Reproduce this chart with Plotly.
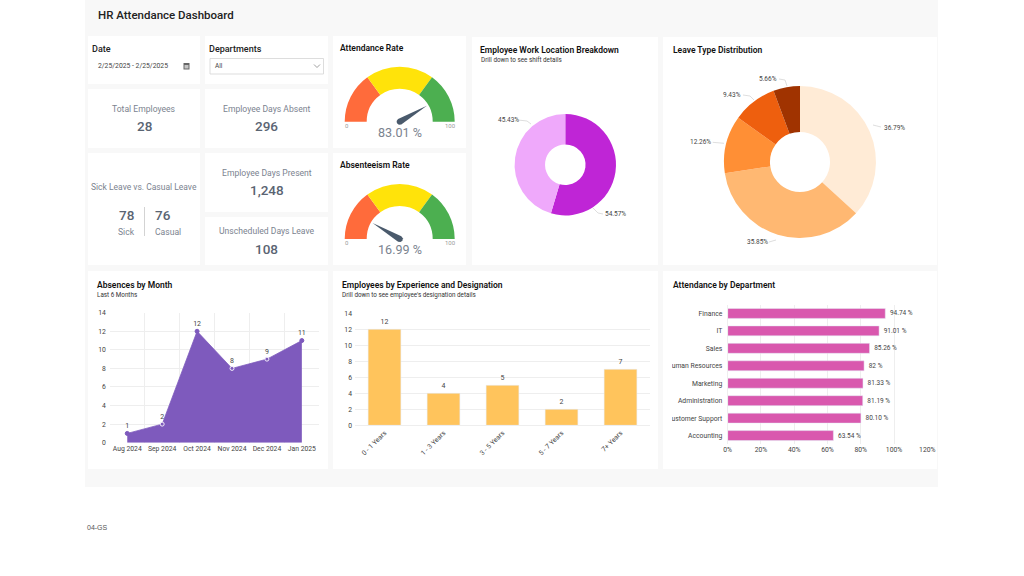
import plotly.graph_objects as go

W, H = 1024, 576

# values
attendance_rate = 83.01
absenteeism_rate = 16.99
gauge_bands = [30, 40, 30]
gauge_colors = ["#FF6B3B", "#FFE30A", "#4CAF50"]

location_values = [54.57, 45.43]
location_colors = ["#BF25D6", "#EFA9FB"]

leave_values = [36.79, 35.85, 12.26, 9.43, 5.66]
leave_colors = ["#FFEBD6", "#FFB872", "#FF8F35", "#EE5F0E", "#A03300"]

months = ["Aug 2024", "Sep 2024", "Oct 2024", "Nov 2024", "Dec 2024", "Jan 2025"]
absences = [1, 2, 12, 8, 9, 11]

experience = ["0 - 1 Years", "1 - 3 Years", "3 - 5 Years", "5 - 7 Years", "7+ Years"]
employees = [12, 4, 5, 2, 7]

departments = ["Finance", "IT", "Sales", "Human Resources", "Marketing",
               "Administration", "Customer Support", "Accounting"]
dept_attendance = [94.74, 91.01, 85.26, 82, 81.33, 81.19, 80.10, 63.54]
dept_labels = ["94.74 %", "91.01 %", "85.26 %", "82 %", "81.33 %", "81.19 %", "80.10 %", "63.54 %"]

FONT = "Roboto"
GREY = "#7B838F"
DARK = "#5A6472"
GRID = "#EEEEEE"
PURPLE = "#7E5ABD"


def px(x):
    return x / W


def py(y):
    return 1 - y / H


fig = go.Figure()
shapes = []
notes = []


def panel(x0, y0, x1, y1, color="#FFFFFF"):
    shapes.append(dict(type="rect", xref="paper", yref="paper", layer="below",
                       x0=px(x0), x1=px(x1), y0=py(y0), y1=py(y1),
                       fillcolor=color, line_width=0))


def text(x, y, s, size=8, color="#222222", weight=400, anchor="left", family=FONT):
    if anchor == "left":
        x -= 1
    notes.append(dict(xref="paper", yref="paper", x=px(x), y=py(y), text=s, showarrow=False,
                      xanchor=anchor, yanchor="middle", borderpad=0,
                      font=dict(family=family, size=size, color=color, weight=weight)))


def leader(points):
    path = "M " + " L ".join(f"{px(a)} {py(b)}" for a, b in points)
    shapes.append(dict(type="path", xref="paper", yref="paper", path=path,
                       line=dict(color="#D0D0D0", width=0.7)))


def add_pie(cx, cy, r, values, colors, hole):
    fig.add_trace(go.Pie(values=values, sort=False, direction="clockwise", rotation=0, hole=hole,
                         marker=dict(colors=colors), textinfo="none", hoverinfo="skip",
                         showlegend=False,
                         domain=dict(x=[px(cx - r), px(cx + r)], y=[py(cy + r), py(cy - r)])))


def add_gauge(cx, cy, value, polar_id):
    r = 55
    # half donut, the lower half of the pie stays invisible
    fig.add_trace(go.Pie(values=gauge_bands + [sum(gauge_bands)], sort=False, direction="clockwise",
                         rotation=270, hole=0.6,
                         marker=dict(colors=gauge_colors + ["rgba(0,0,0,0)"]),
                         textinfo="none", hoverinfo="skip", showlegend=False,
                         domain=dict(x=[px(cx - r), px(cx + r)], y=[py(cy + r), py(cy - r)])))
    angle = 180 * (1 - value / 100)
    offsets = [-90, -45, 0, 45, 90]
    needle_r = [31.5] + [3.2] * 5
    needle_t = [angle] + [angle + 180 + o for o in offsets]
    fig.add_trace(go.Scatterpolar(r=needle_r + needle_r[:1], theta=needle_t + needle_t[:1],
                                  mode="lines", fill="toself", fillcolor="#4A5A6C",
                                  line=dict(width=0, color="#4A5A6C"), hoverinfo="skip",
                                  showlegend=False, subplot=polar_id))
    fig.update_layout({polar_id: dict(
        domain=dict(x=[px(cx - r), px(cx + r)], y=[py(cy + r), py(cy - r)]),
        bgcolor="rgba(0,0,0,0)",
        radialaxis=dict(range=[0, r], visible=False),
        angularaxis=dict(visible=False, direction="counterclockwise", rotation=0))})
    text(cx - 52.5, cy + 3.5, "0", 6, "#9A9A9A", anchor="center")
    text(cx + 50.5, cy + 3.5, "100", 6, "#9A9A9A", anchor="center")
    text(cx, cy + 10.5, f"{value:.2f} %", 12.6, GREY, anchor="center")


# --- page panels ---
panel(85, 0, 938, 487, "#F8F8F8")
for box in [(88, 36, 200, 84), (205, 36, 328, 84), (88, 89, 200, 148), (205, 89, 328, 148),
            (88, 153, 200, 265), (205, 153, 328, 212), (205, 217, 328, 265),
            (333, 36, 466, 148), (333, 153, 466, 265), (472, 37, 658, 265), (663, 37, 937, 265),
            (88, 271, 328, 469), (333, 271, 658, 469), (663, 271, 937, 469)]:
    panel(*box)

text(98, 15, "HR Attendance Dashboard", 11.5, "#222222", 500)
text(92, 49, "Date", 9, "#222222", 500)
text(97.5, 66, "2/25/2025 - 2/25/2025", 6.8, "#444444")
text(209, 49, "Departments", 9, "#222222", 500)
text(215, 66, "All", 6.5, "#444444")

# date picker icon and dropdown box
shapes.append(dict(type="rect", xref="paper", yref="paper", x0=px(183.5), x1=px(189.5), y0=py(69.5), y1=py(63),
                   fillcolor="#666666", line_width=0))
shapes.append(dict(type="rect", xref="paper", yref="paper", x0=px(184.5), x1=px(188.5), y0=py(68.5), y1=py(65),
                   fillcolor="#C4C4C4", line_width=0))
shapes.append(dict(type="rect", xref="paper", yref="paper", x0=px(210), x1=px(323.5), y0=py(74), y1=py(58.5),
                   fillcolor="#FFFFFF", line=dict(color="#D4D4D4", width=0.8)))
shapes.append(dict(type="path", xref="paper", yref="paper",
                   path=f"M {px(314)} {py(64.5)} L {px(317)} {py(67.5)} L {px(320)} {py(64.5)}",
                   line=dict(color="#777777", width=0.7)))

text(144, 108.5, "Total Employees", 8.6, GREY, anchor="center")
text(144, 126, "28", 13.5, DARK, 500, anchor="center")
text(266.5, 108.5, "Employee Days Absent", 8.6, GREY, anchor="center")
text(266.5, 126, "296", 13.5, DARK, 500, anchor="center")
text(266.5, 172.5, "Employee Days Present", 8.6, GREY, anchor="center")
text(266.5, 190, "1,248", 13.5, DARK, 500, anchor="center")
text(266.5, 231, "Unscheduled Days Leave", 8.6, GREY, anchor="center")
text(266.5, 249, "108", 13.5, DARK, 500, anchor="center")
text(144, 186.5, "Sick Leave vs. Casual Leave", 8.5, GREY, anchor="center")
text(126, 215, "78", 13.5, DARK, 500, anchor="center")
text(155, 215, "76", 13.5, DARK, 500)
text(126, 232, "Sick", 8.6, GREY, anchor="center")
text(155, 232, "Casual", 8.6, GREY)
shapes.append(dict(type="line", xref="paper", yref="paper", x0=px(144.5), x1=px(144.5), y0=py(207), y1=py(236),
                   line=dict(color="#C8C8C8", width=0.8)))

# --- gauges ---
text(339.5, 48, "Attendance Rate", 8.5, "#111111", 600)
text(339.5, 165, "Absenteeism Rate", 8.5, "#111111", 600)
add_gauge(399.7, 121.7, attendance_rate, "polar")
add_gauge(399.7, 239, absenteeism_rate, "polar2")

# --- donuts ---
text(480, 50, "Employee Work Location Breakdown", 8.5, "#111111", 600)
text(480.5, 59.5, "Drill down to see shift details", 6.3, "#333333")
add_pie(565.3, 164.7, 50.7, location_values, location_colors, 0.4)
text(508.7, 119.7, f"{location_values[1]:.2f}%", 6.5, "#444444", anchor="center")
text(615.3, 214.3, f"{location_values[0]:.2f}%", 6.5, "#444444", anchor="center")
leader([(518, 120), (527, 121), (531, 124)])
leader([(603, 214), (598, 213), (593, 208)])

text(672.5, 50, "Leave Type Distribution", 8.5, "#111111", 600)
add_pie(800, 162, 76, leave_values, leave_colors, 0.395)
text(894.3, 127.7, f"{leave_values[0]:.2f}%", 6.5, "#444444", anchor="center")
text(757, 242, f"{leave_values[1]:.2f}%", 6.5, "#444444", anchor="center")
text(700, 142.3, f"{leave_values[2]:.2f}%", 6.5, "#444444", anchor="center")
text(732.3, 95.3, f"{leave_values[3]:.2f}%", 6.5, "#444444", anchor="center")
text(768.3, 79.3, f"{leave_values[4]:.2f}%", 6.5, "#444444", anchor="center")
leader([(873, 125), (881, 127)])
leader([(769, 242), (776, 240)])
leader([(712.7, 142.3), (724, 143.3)])
leader([(743, 95), (750, 96), (754, 100)])
leader([(779, 79), (785, 80), (787, 86)])

# --- absences by month ---
text(96.5, 285, "Absences by Month", 8.5, "#111111", 600)
text(96.5, 294.5, "Last 6 Months", 6.3, "#333333")
fig.add_trace(go.Scatter(x=months, y=absences, mode="lines+markers+text", fill="tozeroy",
                         fillcolor=PURPLE, line=dict(color=PURPLE, width=0.8),
                         marker=dict(size=4, color=PURPLE,
                                     line=dict(color=[PURPLE, "#F3EEFA", PURPLE, "#F3EEFA", "#F3EEFA", PURPLE],
                                               width=1)),
                         text=absences, textposition="top center",
                         textfont=dict(family=FONT, size=7, color="#444444"),
                         cliponaxis=False, hoverinfo="skip", showlegend=False,
                         xaxis="x", yaxis="y"))

# --- employees by experience ---
text(342, 285, "Employees by Experience and Designation", 8.5, "#111111", 600)
text(342, 294.5, "Drill down to see employee's designation details", 6.3, "#333333")
fig.add_trace(go.Bar(x=experience, y=employees, marker_color="#FFC45C", width=0.555,
                     text=employees, textposition="outside", cliponaxis=False,
                     textfont=dict(family=FONT, size=7, color="#444444"),
                     hoverinfo="skip", showlegend=False, xaxis="x2", yaxis="y2"))

# --- attendance by department ---
text(672.5, 285, "Attendance by Department", 8.5, "#111111", 600)
fig.add_trace(go.Bar(y=departments, x=dept_attendance, orientation="h", marker_color="#D958AE", width=0.57,
                     text=dept_labels, texttemplate="\u00a0%{text}", textposition="outside", cliponaxis=False,
                     textfont=dict(family=FONT, size=6.5, color="#444444"),
                     hoverinfo="skip", showlegend=False, xaxis="x3", yaxis="y3"))

# long department names run out of their space in the original
shapes.append(dict(type="rect", xref="paper", yref="paper", layer="above", x0=px(663), x1=px(672),
                   y0=py(444), y1=py(305), fillcolor="#FFFFFF", line_width=0))

text(87, 527, "04-GS", 7, "#555555", family="Liberation Sans")

tick_font = dict(family=FONT, size=6.8, color="#444444")
axis_style = dict(tickfont=tick_font, showgrid=True, gridcolor=GRID, gridwidth=0.8, zeroline=False,
                  ticks="", ticklen=0, fixedrange=True, automargin=False)

fig.update_layout(
    width=W, height=H, margin=dict(l=0, r=0, t=0, b=0), autosize=False,
    paper_bgcolor="#FFFFFF", plot_bgcolor="rgba(0,0,0,0)",
    shapes=shapes, annotations=notes, font=dict(family=FONT),
    xaxis=dict(domain=[px(109.8), px(319.3)], type="category", tickson="boundaries", range=[-0.5, 5.5],
               tickangle=0, anchor="y", **axis_style),
    yaxis=dict(domain=[py(442.7), py(312.7)], range=[0, 14], dtick=2, anchor="x", ticklabelstandoff=3, **axis_style),
    xaxis2=dict(domain=[px(355), px(650)], type="category", tickangle=-45, anchor="y2",
                **{**axis_style, "showgrid": False}, showline=True, linecolor=GRID),
    yaxis2=dict(domain=[py(425.3), py(313.3)], range=[0, 14], dtick=2, anchor="x2", ticklabelstandoff=2, **axis_style),
    xaxis3=dict(domain=[px(727.7), px(927.3)], range=[0, 120], dtick=20, ticksuffix="%", anchor="y3", **axis_style),
    yaxis3=dict(domain=[py(444.3), py(304.7)], type="category", autorange="reversed", anchor="x3",
                ticklabelstandoff=3, **{**axis_style, "showgrid": False}, showline=True, linecolor=GRID),
)

fig.write_html("out.html", config=dict(displayModeBar=False),
               post_script="document.body.style.margin='0';document.documentElement.style.overflow='hidden';")
